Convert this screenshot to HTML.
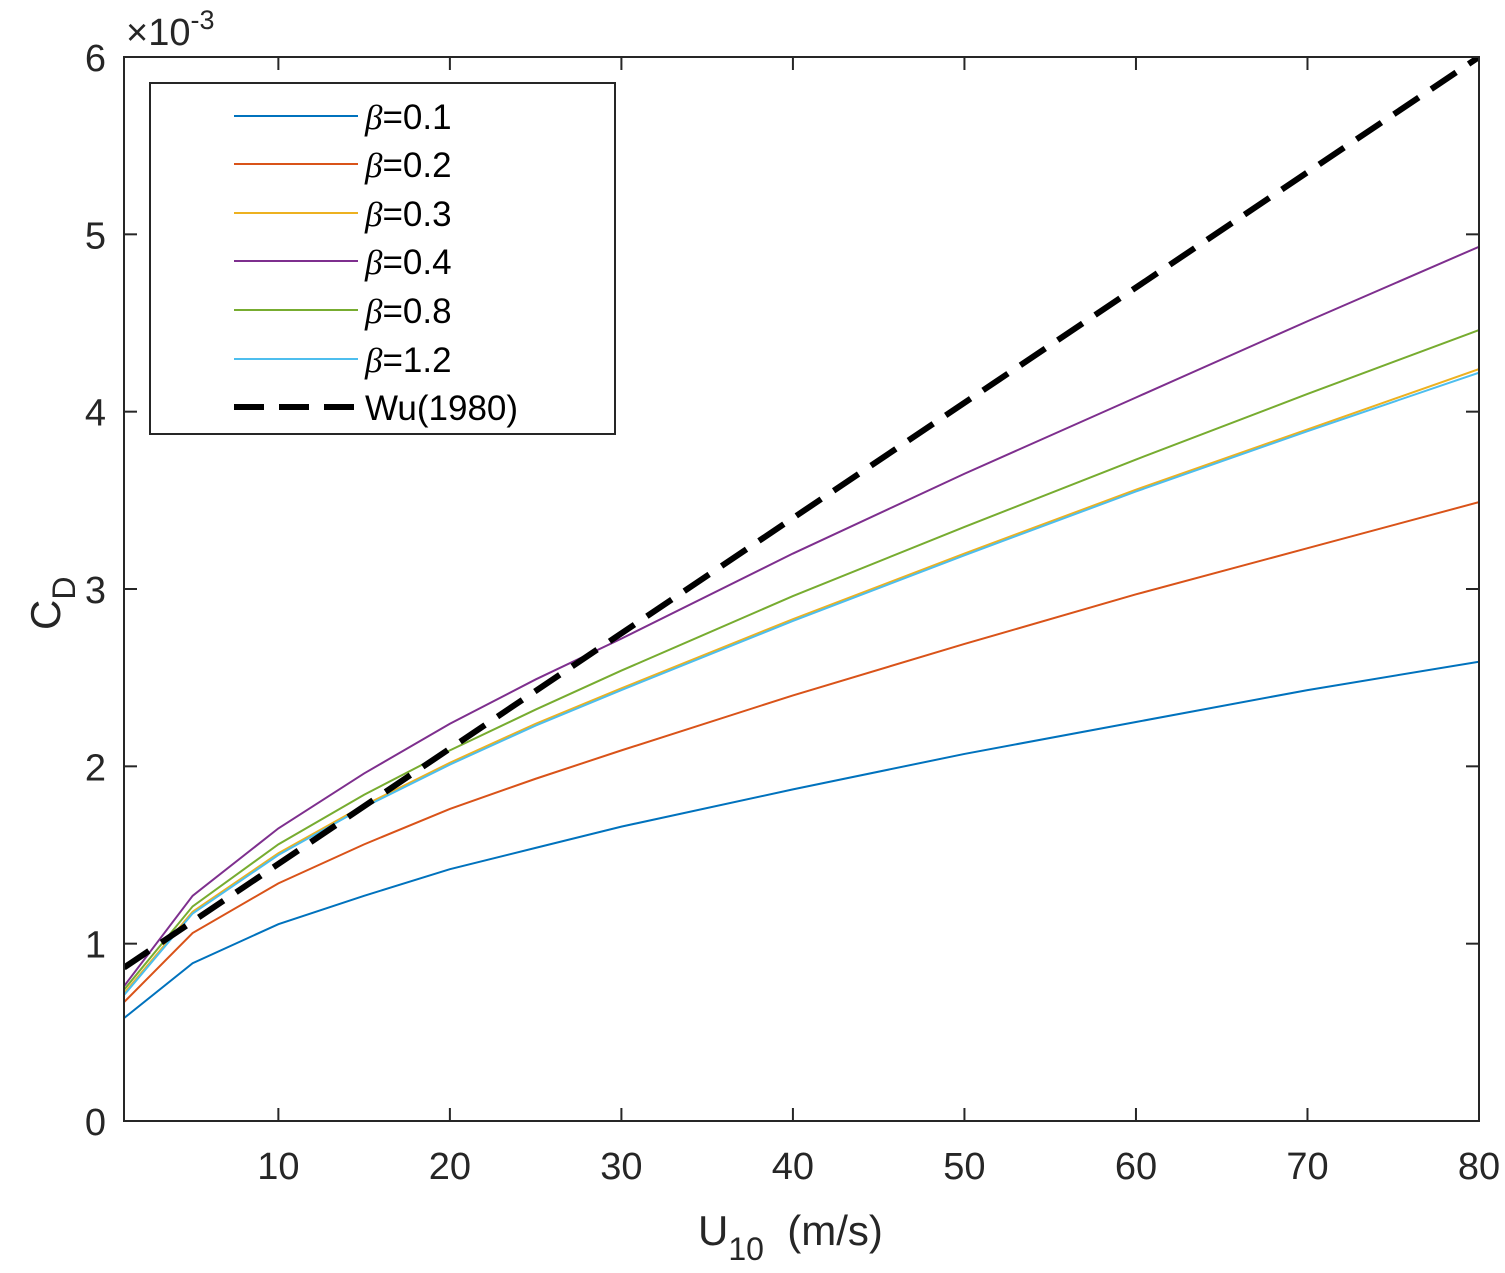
<!DOCTYPE html>
<html><head><meta charset="utf-8"><style>
body{margin:0;background:#fff}
svg{display:block;font-family:"Liberation Sans",Arial,sans-serif}
</style></head><body>
<svg id="chart" width="1505" height="1273" viewBox="0 0 1505 1273"></svg>
<script>
const xVals=[1,5,10,15,20,25,30,40,50,60,70,80];
const seriesNames=["β=0.1","β=0.2","β=0.3","β=0.4","β=0.8","β=1.2"];
const b01=[0.58,0.89,1.11,1.27,1.42,1.54,1.66,1.87,2.07,2.25,2.43,2.59];
const b02=[0.67,1.06,1.34,1.56,1.76,1.93,2.09,2.40,2.69,2.97,3.23,3.49];
const b03=[0.72,1.18,1.51,1.78,2.02,2.24,2.44,2.83,3.20,3.56,3.90,4.24];
const b04=[0.76,1.27,1.65,1.96,2.24,2.49,2.72,3.20,3.65,4.08,4.51,4.93];
const b08=[0.74,1.21,1.56,1.84,2.09,2.32,2.54,2.96,3.35,3.73,4.10,4.46];
const b12=[0.71,1.17,1.50,1.77,2.01,2.23,2.43,2.82,3.19,3.55,3.89,4.22];
const wuX=[1,80];
const wuY=[0.865,6.0];
const xTicks=[10,20,30,40,50,60,70,80];
const yTicks=[0,1,2,3,4,5,6];

const svg=document.getElementById('chart');
const NS='http://www.w3.org/2000/svg';
const L=124,R=1479,T=57,B=1121,xmin=1,xmax=80,ymin=0,ymax=6;
const sx=v=>L+(v-xmin)/(xmax-xmin)*(R-L);
const sy=v=>B-(v-ymin)/(ymax-ymin)*(B-T);
function mk(tag,attrs,parent){const e=document.createElementNS(NS,tag);for(const k in attrs)e.setAttribute(k,attrs[k]);(parent||svg).appendChild(e);return e;}

const clip=mk('clipPath',{id:'pc'});mk('rect',{x:L,y:T,width:R-L,height:B-T},clip);

const colors=['#0072BD','#D95319','#EDB120','#7E2F8E','#77AC30','#4DBEEE'];
const data=[b01,b02,b03,b04,b08,b12];
const order=[0,1,2,4,5,3];
order.forEach(i=>{
  const p=mk('polyline',{points:xVals.map((x,j)=>sx(x)+','+sy(data[i][j])).join(' '),fill:'none',stroke:colors[i],'stroke-width':2,'clip-path':'url(#pc)'});
  
  
});
const wu=mk('polyline',{points:wuX.map((x,j)=>sx(x)+','+sy(wuY[j])).join(' '),fill:'none',stroke:'#000','stroke-width':6,'stroke-dasharray':'30,15','clip-path':'url(#pc)'});



const box=mk('rect',{x:L,y:T,width:R-L,height:B-T,fill:'none',stroke:'#262626','stroke-width':2});



xTicks.forEach(t=>{
  mk('line',{x1:sx(t),x2:sx(t),y1:B,y2:B-13,stroke:'#262626','stroke-width':2});
  mk('line',{x1:sx(t),x2:sx(t),y1:T,y2:T+13,stroke:'#262626','stroke-width':2});
  const tx=mk('text',{x:sx(t),y:B+58,'text-anchor':'middle','font-size':38,fill:'#262626'});tx.textContent=t;
  
  
});
yTicks.forEach(t=>{
  mk('line',{x1:L,x2:L+13,y1:sy(t),y2:sy(t),stroke:'#262626','stroke-width':2});
  mk('line',{x1:R,x2:R-13,y1:sy(t),y2:sy(t),stroke:'#262626','stroke-width':2});
  const tx=mk('text',{x:L-18,y:sy(t)+14,'text-anchor':'end','font-size':38,fill:'#262626'});tx.textContent=t;
  
  
});
</script>
<svg style="position:absolute;left:0;top:0" width="1505" height="1273" font-family="Liberation Sans, Arial, sans-serif">
<text x="126" y="45" font-size="38" fill="#262626">×10<tspan dy="-16" font-size="27">-3</tspan></text>
<text x="698" y="1245" font-size="42" fill="#262626">U<tspan dy="15" font-size="32">10</tspan><tspan dy="-15" xml:space="preserve">  (m/s)</tspan></text>
<g transform="translate(60,600) rotate(-90)"><text x="-30" y="0" font-size="42" fill="#262626">C<tspan dy="15" font-size="32">D</tspan></text></g>
<g>
<rect x="150" y="83" width="465" height="351" fill="#fff" stroke="#262626" stroke-width="2"/>
<line x1="234" x2="358" y1="116" y2="116" stroke="#0072BD" stroke-width="2"/>
<text x="365" y="129" font-size="35" fill="#000"><tspan font-style="italic" font-family="Liberation Serif, serif">β</tspan>=0.1</text>
<line x1="234" x2="358" y1="164" y2="164" stroke="#D95319" stroke-width="2"/>
<text x="365" y="177" font-size="35" fill="#000"><tspan font-style="italic" font-family="Liberation Serif, serif">β</tspan>=0.2</text>
<line x1="234" x2="358" y1="213" y2="213" stroke="#EDB120" stroke-width="2"/>
<text x="365" y="226" font-size="35" fill="#000"><tspan font-style="italic" font-family="Liberation Serif, serif">β</tspan>=0.3</text>
<line x1="234" x2="358" y1="261" y2="261" stroke="#7E2F8E" stroke-width="2"/>
<text x="365" y="274" font-size="35" fill="#000"><tspan font-style="italic" font-family="Liberation Serif, serif">β</tspan>=0.4</text>
<line x1="234" x2="358" y1="310" y2="310" stroke="#77AC30" stroke-width="2"/>
<text x="365" y="323" font-size="35" fill="#000"><tspan font-style="italic" font-family="Liberation Serif, serif">β</tspan>=0.8</text>
<line x1="234" x2="358" y1="359" y2="359" stroke="#4DBEEE" stroke-width="2"/>
<text x="365" y="372" font-size="35" fill="#000"><tspan font-style="italic" font-family="Liberation Serif, serif">β</tspan>=1.2</text>
<line x1="234" x2="358" y1="407" y2="407" stroke="#000" stroke-width="6" stroke-dasharray="30,15"/>
<text x="365" y="420" font-size="35" fill="#000">Wu(1980)</text>
</g>
</svg>
</body></html>
